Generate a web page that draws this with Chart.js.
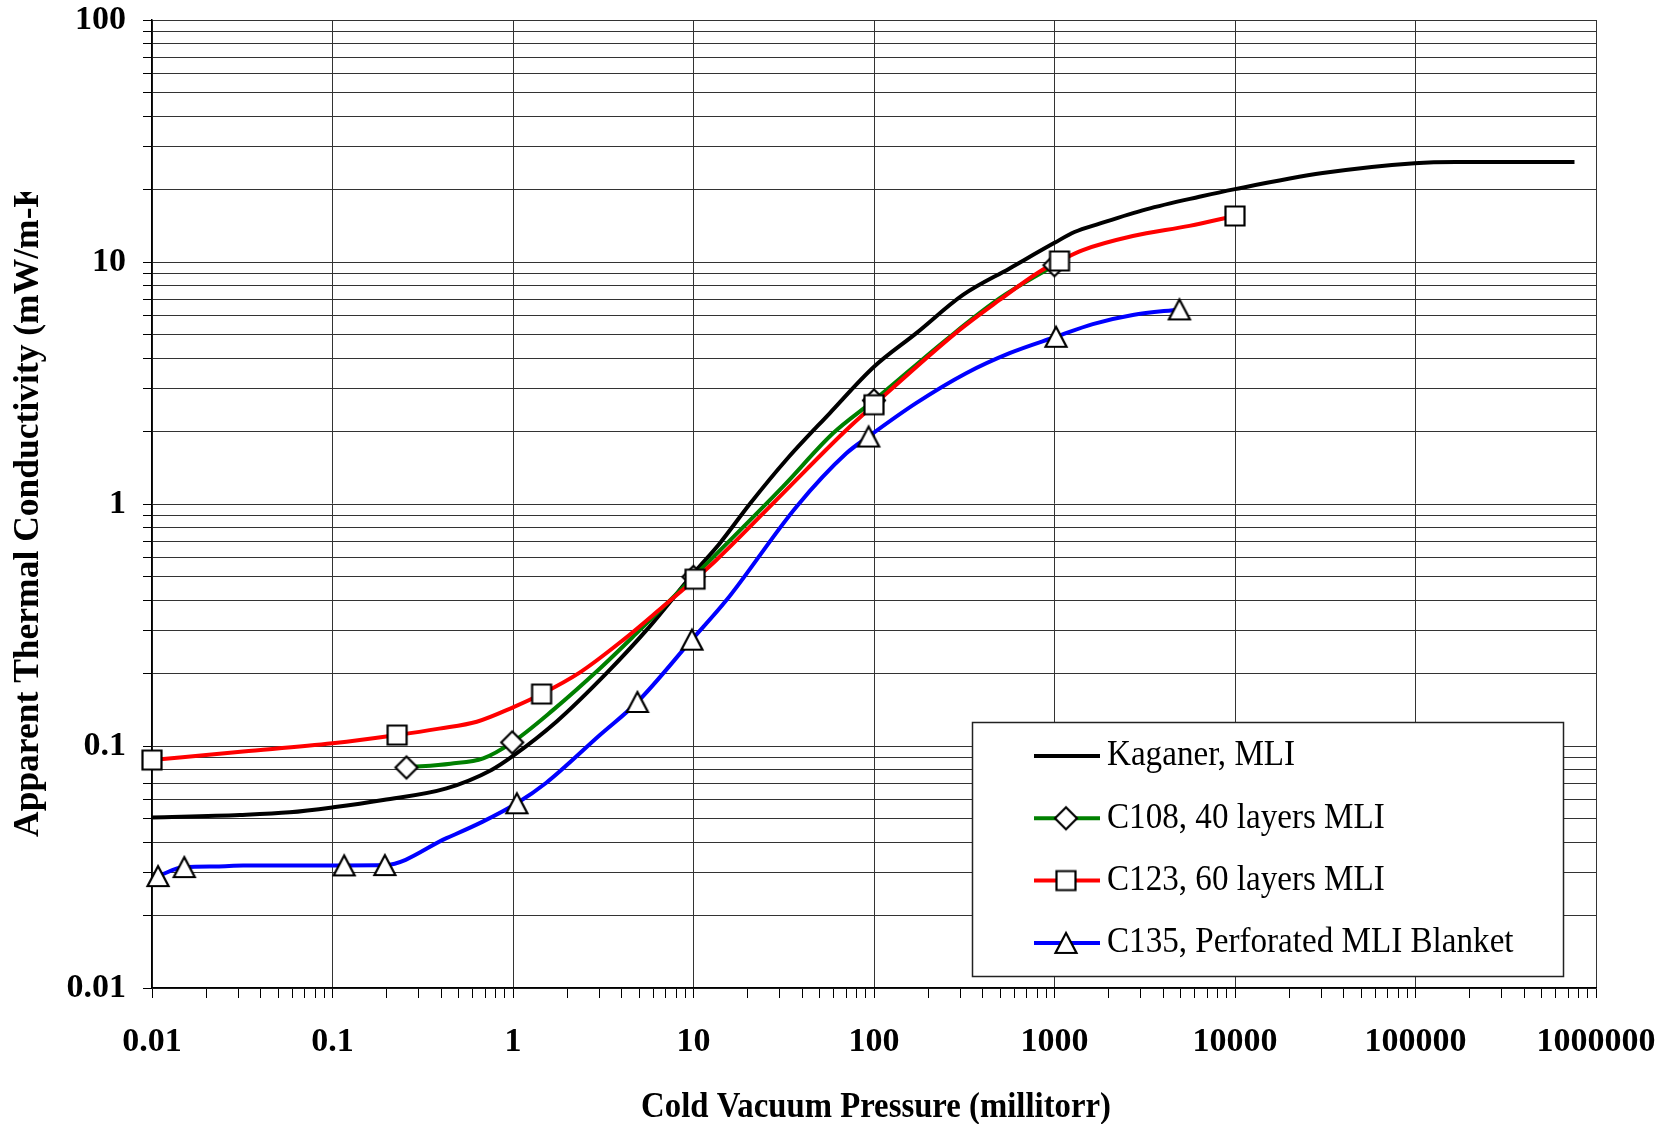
<!DOCTYPE html>
<html>
<head>
<meta charset="utf-8">
<title>Apparent Thermal Conductivity vs Cold Vacuum Pressure</title>
<script src="https://cdn.jsdelivr.net/npm/chart.js@4.4.1/dist/chart.umd.min.js"></script>
<style>
  html, body { margin: 0; padding: 0; background: #fff; }
  #wrap { width: 1675px; height: 1124px; }
</style>
</head>
<body>
<div id="wrap"><canvas id="chart" width="1675" height="1124"></canvas></div>
<script>
// decade tick labels
const xTickLabels = ['0.01', '0.1', '1', '10', '100', '1000', '10000', '100000', '1000000'];
const yTickLabels = ['0.01', '0.1', '1', '10', '100'];

const xTitle = 'Cold Vacuum Pressure (millitorr)';
const yTitle = 'Apparent Thermal Conductivity (mW/m-K)';
const seriesNames = ['Kaganer, MLI', 'C108, 40 layers MLI', 'C123, 60 layers MLI', 'C135, Perforated MLI Blanket'];

// Kaganer, MLI (curve only)
const kaganerX = [0.01, 0.0307, 0.058, 0.101, 0.191, 0.428, 0.76, 1.0, 1.74, 3.3, 5.49, 10, 14, 20.5, 32.6, 56.8, 100, 171, 311, 564, 1000, 1290, 1775, 3220, 6350, 10000, 30600, 98900, 167000, 760000];
const kaganerY = [0.0507, 0.0519, 0.0532, 0.0558, 0.0598, 0.0668, 0.0796, 0.091, 0.126, 0.2, 0.301, 0.517, 0.689, 1.0, 1.52, 2.37, 3.69, 5.07, 7.31, 9.41, 12.0, 13.3, 14.4, 16.5, 18.6, 20.0, 23.3, 25.6, 25.9, 25.9];

// C108, 40 layers MLI
const c108X = [0.257, 0.45, 0.684, 0.99, 1.67, 3.03, 4.83, 10, 31.3, 59.3, 100, 262, 500, 1000];
const c108Y = [0.0815, 0.0845, 0.0889, 0.1035, 0.141, 0.209, 0.292, 0.5, 1.18, 1.96, 2.68, 4.9, 7.1, 9.7];
const c108MarkX = [0.257, 0.99, 10, 100, 1000];
const c108MarkY = [0.0815, 0.1035, 0.5, 2.68, 9.7];

// C123, 60 layers MLI
const c123X = [0.01, 0.032, 0.1, 0.228, 0.39, 0.63, 1.0, 1.44, 2.34, 4.07, 6.78, 10.2, 13.4, 31.3, 67.3, 100, 298, 496, 826, 1066, 1436, 2716, 5590, 10000];
const c123Y = [0.0875, 0.0948, 0.1026, 0.111, 0.118, 0.126, 0.1445, 0.164, 0.201, 0.274, 0.377, 0.489, 0.587, 1.107, 1.96, 2.57, 5.24, 6.97, 9.12, 10.1, 11.2, 12.8, 14.1, 15.5];
const c123MarkX = [0.01, 0.228, 1.44, 10.2, 100, 1066, 10000];
const c123MarkY = [0.0875, 0.111, 0.164, 0.489, 2.57, 10.1, 15.5];

// C135, Perforated MLI Blanket
const c135X = [0.0108, 0.0151, 0.0228, 0.032, 0.116, 0.195, 0.428, 0.68, 1.05, 1.53, 3.03, 4.89, 9.8, 15.2, 37.2, 70.3, 93.3, 171, 324, 564, 1020, 1630, 2716, 4920];
const c135Y = [0.029, 0.0316, 0.0318, 0.0321, 0.0321, 0.0322, 0.0416, 0.0487, 0.058, 0.0705, 0.111, 0.152, 0.275, 0.40, 0.975, 1.62, 1.90, 2.61, 3.47, 4.20, 4.91, 5.54, 6.04, 6.37];
const c135MarkX = [0.0108, 0.0151, 0.116, 0.195, 1.05, 4.89, 9.8, 93.3, 1020, 4920];
const c135MarkY = [0.029, 0.0316, 0.0321, 0.0322, 0.058, 0.152, 0.275, 1.90, 4.91, 6.37];

const serif = "'Liberation Serif', 'Times New Roman', serif";
const gridColor = '#333';

function zip(xs, ys) {
  return xs.map((x, i) => ({ x: x, y: ys[i] }));
}

// marker glyphs drawn once on small canvases
function makeMarker(kind) {
  const c = document.createElement('canvas');
  c.width = 28; c.height = 28;
  const g = c.getContext('2d');
  g.beginPath();
  if (kind === 'square') {
    g.rect(4.5, 4.5, 19, 19);
  } else if (kind === 'diamond') {
    g.moveTo(14, 3); g.lineTo(25, 14); g.lineTo(14, 25); g.lineTo(3, 14);
    g.closePath();
  } else {
    g.moveTo(14, 4); g.lineTo(24.5, 24); g.lineTo(3.5, 24);
    g.closePath();
  }
  g.fillStyle = '#fff';
  g.fill();
  g.lineWidth = 2.2;
  g.strokeStyle = '#000';
  g.stroke();
  return c;
}
const diamondImg = makeMarker('diamond');
const squareImg = makeMarker('square');
const triangleImg = makeMarker('triangle');

const lineColors = ['#000000', '#008000', '#ff0000', '#0000ff'];
const legendMarkers = [null, diamondImg, squareImg, triangleImg];

function decadeTicks(labels) {
  const ticks = [];
  labels.forEach((l, i) => {
    const e = Math.round(Math.log10(Number(l)));
    const last = i === labels.length - 1;
    for (let m = 1; m <= (last ? 1 : 9); m++) {
      ticks.push({ value: Number((m * Math.pow(10, e)).toPrecision(6)), major: m === 1 });
    }
  });
  return ticks;
}

function labelFor(labels, value) {
  const hit = labels.find(l => Math.abs(Math.log10(Number(l)) - Math.log10(value)) < 1e-6);
  return hit || '';
}

function lineSet(label, xs, ys, color, order) {
  return {
    label: label,
    data: zip(xs, ys),
    showLine: true,
    borderColor: color,
    borderWidth: 4,
    pointRadius: 0,
    fill: false,
    cubicInterpolationMode: 'monotone',
    order: order
  };
}

function markSet(label, xs, ys, img, order) {
  return {
    label: label,
    data: zip(xs, ys),
    showLine: false,
    pointStyle: img,
    pointRadius: 10,
    clip: false,
    order: order
  };
}

const decorPlugin = {
  id: 'decor',
  afterDraw(chart) {
    const ctx = chart.ctx;

    // y axis title (clipped at the top as in the source figure)
    ctx.save();
    ctx.beginPath();
    ctx.rect(0, 192, 150, 932);
    ctx.clip();
    ctx.translate(38, 837);
    ctx.rotate(-Math.PI / 2);
    ctx.font = 'bold 35.5px ' + serif;
    ctx.fillStyle = '#000';
    ctx.textAlign = 'left';
    ctx.textBaseline = 'alphabetic';
    ctx.fillText(yTitle, 0, 0);
    ctx.restore();

    // x axis title
    ctx.save();
    ctx.translate(876, 1108);
    ctx.scale(0.91, 1);
    ctx.font = 'bold 36px ' + serif;
    ctx.fillStyle = '#000';
    ctx.textAlign = 'center';
    ctx.textBaseline = 'middle';
    ctx.fillText(xTitle, 0, 0);
    ctx.restore();

    // legend
    ctx.save();
    ctx.fillStyle = '#fff';
    ctx.fillRect(972, 722, 592, 255);
    ctx.strokeStyle = '#222';
    ctx.lineWidth = 1.5;
    ctx.strokeRect(972.5, 722.5, 591, 254);
    seriesNames.forEach((name, i) => {
      const y = 756 + i * 62.3;
      ctx.beginPath();
      ctx.moveTo(1034, y);
      ctx.lineTo(1100, y);
      ctx.strokeStyle = lineColors[i];
      ctx.lineWidth = 4;
      ctx.stroke();
      const img = legendMarkers[i];
      if (img) ctx.drawImage(img, 1066 - img.width / 2, y - img.height / 2);
      ctx.save();
      ctx.translate(1107, y);
      ctx.scale(0.92, 1);
      ctx.font = '36px ' + serif;
      ctx.fillStyle = '#000';
      ctx.textAlign = 'left';
      ctx.textBaseline = 'middle';
      ctx.fillText(name, 0, 0);
      ctx.restore();
    });
    ctx.restore();
  }
};

new Chart(document.getElementById('chart'), {
  type: 'scatter',
  data: {
    datasets: [
      lineSet(seriesNames[0], kaganerX, kaganerY, lineColors[0], 14),
      lineSet(seriesNames[1], c108X, c108Y, lineColors[1], 13),
      lineSet(seriesNames[2], c123X, c123Y, lineColors[2], 12),
      lineSet(seriesNames[3], c135X, c135Y, lineColors[3], 11),
      markSet(seriesNames[1], c108MarkX, c108MarkY, diamondImg, 3),
      markSet(seriesNames[2], c123MarkX, c123MarkY, squareImg, 2),
      markSet(seriesNames[3], c135MarkX, c135MarkY, triangleImg, 1)
    ]
  },
  options: {
    responsive: false,
    animation: false,
    devicePixelRatio: 1,
    events: [],
    layout: { padding: { left: 0, right: 79, top: 20, bottom: 0 } },
    plugins: {
      legend: { display: false },
      tooltip: { enabled: false }
    },
    scales: {
      x: {
        type: 'logarithmic',
        min: 0.01,
        max: 1000000,
        afterBuildTicks: scale => { scale.ticks = decadeTicks(xTickLabels); },
        afterFit: scale => {
          scale.height = 136;
          scale.paddingLeft = 0;
          scale.paddingRight = 0;
        },
        grid: {
          color: ctx => (ctx.tick && ctx.tick.major) ? gridColor : 'rgba(0,0,0,0)',
          tickColor: '#000',
          lineWidth: 1,
          tickLength: 10
        },
        border: { display: true, color: '#000', width: 1.5 },
        ticks: {
          autoSkip: false,
          maxRotation: 0,
          padding: 24,
          color: '#000',
          font: { family: serif, size: 34, weight: 'bold', lineHeight: 1.2 },
          callback: (value, index, ticks) => ticks[index].major ? labelFor(xTickLabels, value) : ''
        }
      },
      y: {
        type: 'logarithmic',
        min: 0.01,
        max: 100,
        afterBuildTicks: scale => { scale.ticks = decadeTicks(yTickLabels); },
        afterFit: scale => {
          scale.width = 152;
          scale.paddingTop = 0;
          scale.paddingBottom = 0;
        },
        grid: {
          color: gridColor,
          tickColor: '#000',
          lineWidth: 1,
          tickLength: 9
        },
        border: { display: true, color: '#000', width: 1.5 },
        ticks: {
          autoSkip: false,
          padding: 17,
          color: '#000',
          font: { family: serif, size: 34, weight: 'bold', lineHeight: 1.2 },
          callback: (value, index, ticks) => ticks[index].major ? labelFor(yTickLabels, value) : ''
        }
      }
    }
  },
  plugins: [decorPlugin]
});
</script>
</body>
</html>
